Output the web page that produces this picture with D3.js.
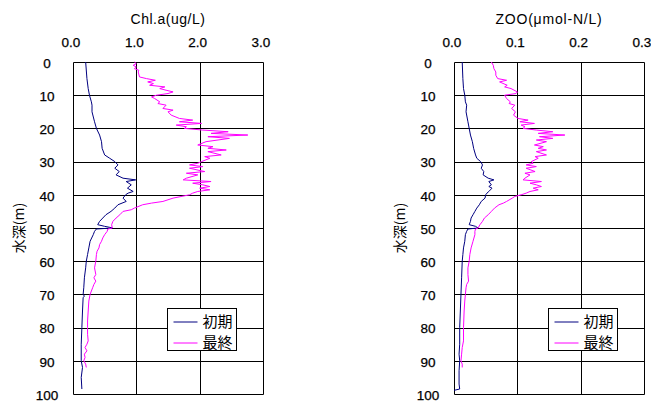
<!DOCTYPE html>
<html><head><meta charset="utf-8">
<script src="https://cdn.jsdelivr.net/npm/d3@7"></script>
<style>
html,body{margin:0;padding:0;background:#fff;}
svg{display:block;}
text{font-family:"Liberation Sans","Noto Sans CJK JP",sans-serif;fill:#000;}
.jp{font-family:"Noto Sans CJK JP",sans-serif;}
.tk{stroke:#000;stroke-width:0.25px;}
</style></head>
<body>
<svg id="c" width="651" height="403"></svg>
<script>
// ---- Data ----
const depthTicks = [0,10,20,30,40,50,60,70,80,90,100];
const chlTicks = [0.0,1.0,2.0,3.0];
const zooTicks = [0.0,0.1,0.2,0.3];
const seriesNames = ["初期","最終"];

// Chl.a initial (depth m, ug/L)
const chlInitDepth = [0,5,8,10,12,13,15,18,20,22,24,26,28,29,30,31,32,33,34,35,35.5,36,37,38,39,39.5,40,41,42,43,44,45,46,47,48,49,49.5,49.8,50,50.3,51,52,54,56,58,60,62,65,68,70,70.5,71,75,80,85,90,92,95,98.5];
const chlInitVal   = [0.20,0.22,0.24,0.26,0.29,0.30,0.30,0.34,0.37,0.42,0.45,0.46,0.50,0.58,0.66,0.71,0.66,0.73,0.68,0.79,0.99,0.84,0.92,0.86,0.95,0.87,0.83,0.79,0.84,0.71,0.66,0.60,0.52,0.47,0.42,0.39,0.50,0.58,0.62,0.37,0.34,0.32,0.27,0.25,0.23,0.21,0.20,0.18,0.17,0.16,0.18,0.16,0.15,0.14,0.13,0.13,0.15,0.13,0.14];

// Chl.a final
const chlFinDepth = [0,0.5,1,1.5,2,2.5,3,4.5,5,5.5,6,6.5,7,7.5,8,8.5,9,9.5,10,10.5,11,12,12.5,13,14,14.5,15,16,17,17.5,18,18.5,19,19.5,20,20.5,21,21.5,22,22.5,23,24,25,25.5,26,26.5,27,28,28.5,29,30,30.5,31,31.5,32,33,33.5,34,35,35.5,36,36.5,37,37.5,38,38.5,39,39.5,40,41,42,42.5,43,44,44.5,45,46,47,48,49,50,50.3,51,52,53,54,55,56,57,58,60,62,64,65,66,67,68,70,72,75,78,80,82,84,85,86,87,88,89,90,91,92];
const chlFinVal   = [0.97,1.00,0.95,1.00,0.97,1.04,1.03,1.05,1.16,1.30,1.18,1.27,1.21,1.45,1.37,1.47,1.58,1.50,1.32,1.24,1.29,1.37,1.34,1.47,1.42,1.58,1.50,1.55,1.68,1.89,1.68,2.03,1.63,1.79,1.76,2.05,2.45,2.18,2.76,2.13,2.47,2.10,1.97,2.21,2.13,2.42,2.13,2.34,2.08,2.16,2.03,1.97,1.84,2.05,1.84,2.08,1.79,1.97,1.79,1.74,2.18,1.89,2.05,2.16,2.00,2.16,1.97,1.89,1.84,1.58,1.42,1.24,1.10,0.97,0.92,0.79,0.74,0.68,0.63,0.61,0.62,0.55,0.54,0.50,0.47,0.45,0.42,0.41,0.38,0.37,0.36,0.34,0.36,0.33,0.36,0.33,0.31,0.27,0.25,0.24,0.23,0.23,0.23,0.24,0.22,0.19,0.22,0.18,0.19,0.17,0.20,0.21];

// ZOO initial (umol-N/L)
const zooInitDepth = [0,5,8,10,12,13,15,18,20,22,24,26,28,29,30,31,32,33,34,35,35.5,36,37,37.5,38,39,39.5,40,41,42,43,44,45,46,47,48,49,49.5,50,50.3,51,52,54,56,58,60,65,70,75,80,85,88,90,93,97,98.5,98.9];
const zooInitVal   = [0.013,0.014,0.015,0.017,0.018,0.020,0.019,0.022,0.024,0.026,0.029,0.031,0.034,0.036,0.042,0.045,0.043,0.047,0.046,0.054,0.063,0.055,0.059,0.055,0.060,0.055,0.052,0.050,0.049,0.043,0.040,0.036,0.033,0.030,0.027,0.026,0.024,0.034,0.038,0.022,0.020,0.018,0.017,0.015,0.014,0.013,0.012,0.011,0.010,0.009,0.009,0.008,0.009,0.008,0.008,0.009,0.000];

// ZOO final
const zooFinDepth = [0,1,2,3,4,5,5.5,6,7,7.5,8,9,9.5,10,11,12,12.5,13,14,15,16,17,17.5,18,18.5,19,19.5,20,20.5,21,21.5,22,22.5,23,23.5,24,25,25.5,26,26.5,27,28,28.5,29,30,30.5,31,31.5,32,33,33.5,34,35,35.5,36,36.5,37,37.5,38,38.5,39,39.5,40,40.5,41,42,42.5,43,44,45,46,47,48,49,50,50.3,51,52,54,56,58,60,62,64,66,67,68,70,72,75,80,84,86,88,90,91,92];
const zooFinVal   = [0.059,0.062,0.063,0.066,0.066,0.069,0.083,0.072,0.084,0.080,0.090,0.100,0.098,0.080,0.083,0.089,0.087,0.096,0.091,0.097,0.094,0.101,0.117,0.104,0.127,0.106,0.112,0.109,0.130,0.156,0.133,0.175,0.135,0.156,0.130,0.146,0.127,0.141,0.133,0.146,0.130,0.146,0.128,0.133,0.122,0.125,0.114,0.130,0.114,0.128,0.112,0.120,0.112,0.109,0.138,0.120,0.130,0.138,0.125,0.133,0.120,0.114,0.106,0.096,0.092,0.083,0.078,0.071,0.064,0.059,0.054,0.048,0.045,0.041,0.038,0.034,0.033,0.033,0.030,0.027,0.025,0.024,0.022,0.022,0.023,0.020,0.019,0.018,0.017,0.016,0.015,0.015,0.013,0.012,0.011,0.013,0.013];

// ---- Drawing ----
const svg = d3.select("#c");
const colors = ["#000080","#FF00FF"];

function panel(opt){
  const g = svg.append("g");
  const x = d3.scaleLinear().domain([0, opt.xmax]).range([opt.left, opt.left+190]);
  const y = d3.scaleLinear().domain([0,100]).range([62, 394]);
  const cx = v => Math.round(x(v)) + 0.5;
  const cy = v => Math.round(y(v)) + 0.5;

  // grid
  g.selectAll(".hg").data(depthTicks).join("line")
    .attr("x1", cx(0)).attr("x2", cx(opt.xmax))
    .attr("y1", d=>cy(d)).attr("y2", d=>cy(d))
    .attr("stroke","#000").attr("stroke-width",1);
  g.selectAll(".vg").data(opt.xticks).join("line")
    .attr("x1", d=>cx(d)).attr("x2", d=>cx(d))
    .attr("y1", cy(0)).attr("y2", cy(100))
    .attr("stroke","#000").attr("stroke-width",1);

  // tick labels
  g.selectAll(".xl").data(opt.xticks).join("text").attr("class","tk")
    .attr("x", d=>x(d)-2).attr("y", 42).attr("dy","0.35em")
    .attr("text-anchor","middle").attr("font-size",13.5)
    .text(d=>d.toFixed(1));
  g.selectAll(".yl").data(depthTicks).join("text").attr("class","tk")
    .attr("x", opt.left-26).attr("y", d=>y(d)+1).attr("dy","0.35em")
    .attr("text-anchor","middle").attr("font-size",13.5)
    .text(d=>d);

  // title
  g.append("text").attr("x", opt.left+95).attr("y", 19).attr("dy","0.35em")
    .attr("text-anchor","middle").attr("font-size",14)
    .attr("letter-spacing", opt.ls).text(opt.title);
  g.append("text").attr("class","jp")
    .attr("transform",`translate(${opt.left-54},228) rotate(-90)`)
    .attr("text-anchor","middle").attr("dy","0.35em").attr("font-size",14)
    .text("水深(m)");

  // lines
  const line = d3.line().x(d=>x(d[1])).y(d=>y(d[0]));
  opt.series.forEach((s,i)=>{
    const pts = s.d.map((dd,k)=>[dd, s.v[k]]);
    g.append("path").datum(pts).attr("d", line)
      .attr("fill","none").attr("stroke", colors[i]).attr("stroke-width",1);
  });

  // legend
  const lx = opt.left + 94.5, ly = 308.5;
  g.append("rect").attr("x",lx).attr("y",ly).attr("width",69).attr("height",42)
    .attr("fill","#fff").attr("stroke","#000").attr("stroke-width",1);
  seriesNames.forEach((n,i)=>{
    const yy = ly + 13.5 + i*21;
    g.append("line").attr("x1",lx+6).attr("x2",lx+30).attr("y1",yy).attr("y2",yy)
      .attr("stroke",colors[i]).attr("stroke-width",1);
    g.append("text").attr("class","jp").attr("x",lx+35).attr("y",yy).attr("dy","0.35em")
      .attr("font-size",15).text(n);
  });
}

panel({left:73, xmax:3.0, xticks:chlTicks, title:"Chl.a(ug/L)", ls:0.5,
  series:[{d:chlInitDepth,v:chlInitVal},{d:chlFinDepth,v:chlFinVal}]});
panel({left:454, xmax:0.3, xticks:zooTicks, title:"ZOO(μmol-N/L)", ls:0.8,
  series:[{d:zooInitDepth,v:zooInitVal},{d:zooFinDepth,v:zooFinVal}]});
</script>
</body></html>
